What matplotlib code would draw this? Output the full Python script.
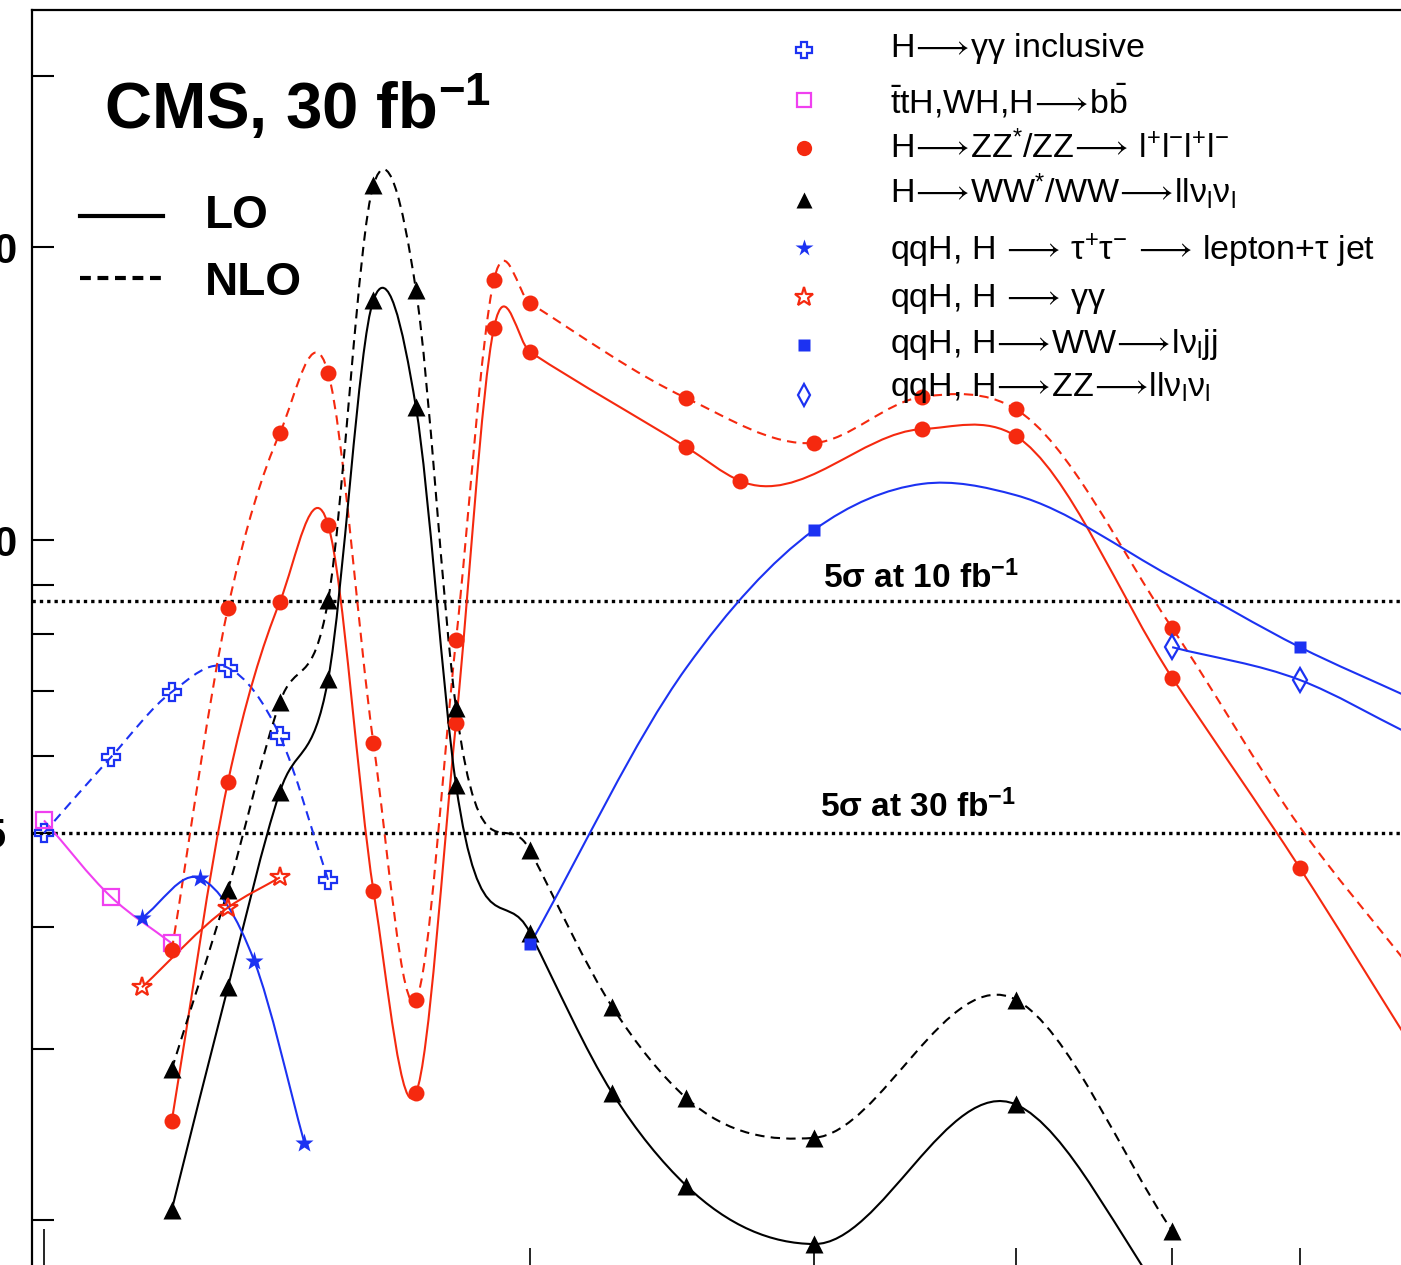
import numpy as np
import matplotlib
matplotlib.use("Agg")
import matplotlib.pyplot as plt
import matplotlib.transforms as mtransforms
from matplotlib.path import Path
from matplotlib.patches import PathPatch
from matplotlib.ticker import NullFormatter

plt.rcParams['font.family'] = ['Liberation Sans', 'DejaVu Sans']
plt.rcParams['mathtext.default'] = 'regular'

# ------------------------------------------------------------
# values (Higgs mass in GeV, significance)
# ------------------------------------------------------------
gg_mass = [100, 110, 120, 130, 140, 150]
gg_sig = [5.00, 5.98, 6.98, 7.39, 6.29, 4.47]

bb_mass = [100, 110, 120]
bb_sig = [5.15, 4.30, 3.85]

zz_lo_mass = [120, 130, 140, 150, 160, 170, 180, 190, 200, 250, 270, 350, 400, 500, 600, 700]
zz_lo_sig = [2.53, 5.64, 8.64, 10.36, 4.36, 2.70, 6.49, 16.52, 15.61, 12.46, 11.50,
             13.00, 12.79, 7.22, 4.60, 3.06]
zz_lo_marked = 15

zz_nlo_mass = [120, 130, 140, 150, 160, 170, 180, 190, 200, 250, 300, 350, 400, 500, 600, 700]
zz_nlo_sig = [3.79, 8.51, 12.88, 14.85, 6.18, 3.37, 7.89, 18.50, 17.52, 13.99, 12.58,
              14.03, 13.63, 8.12, 5.07, 3.66]
zz_nlo_marked = 14

ww_lo_mass = [120, 130, 140, 150, 160, 170, 180, 200, 225, 250, 300, 400, 500]
ww_lo_sig = [2.05, 3.47, 5.51, 7.20, 17.65, 13.69, 5.60, 3.95, 2.70, 2.17, 1.89, 2.63, 1.62]

ww_nlo_mass = [120, 130, 140, 150, 160, 170, 180, 200, 225, 250, 300, 400, 500]
ww_nlo_sig = [2.86, 4.37, 6.81, 8.68, 23.17, 18.07, 6.72, 4.80, 3.31, 2.67, 2.43, 3.37, 1.95]

tautau_mass = [115, 125, 135, 145]
tautau_sig = [4.09, 4.49, 3.69, 2.40]

qqgg_mass = [115, 130, 140]
qqgg_sig = [3.47, 4.19, 4.50]

lvjj_mass = [200, 250, 300, 350, 400, 500, 600, 700]
lvjj_sig = [3.84, 7.39, 10.24, 11.42, 11.12, 9.16, 7.76, 6.90]
lvjj_marked = [200, 300, 600]

llvv_mass = [500, 600, 700]
llvv_sig = [7.76, 7.18, 6.33]
llvv_marked = [500, 600]

AR = r'$\!\longrightarrow\!$'
legend_labels = [
    'H' + AR + 'γγ inclusive',
    r'$\bar{t}$tH,WH,H' + AR + r'b$\bar{b}$',
    'H' + AR + 'ZZ$^{*}$/ZZ' + AR + ' l$^{+}$l$^{-}$l$^{+}$l$^{-}$',
    'H' + AR + 'WW$^{*}$/WW' + AR + 'llν$_{l}$ν$_{l}$',
    'qqH, H ' + AR + ' τ$^{+}$τ$^{-}$ ' + AR + ' lepton+τ jet',
    'qqH, H ' + AR + ' γγ',
    'qqH, H' + AR + 'WW' + AR + 'lν$_{l}$jj',
    'qqH, H' + AR + 'ZZ' + AR + 'llν$_{l}$ν$_{l}$',
]

BLUE = '#1c32f2'
RED = '#f5290f'
MAG = '#f040f0'
BLK = 'black'


def smooth_path(mass, sig):
    # cubic Hermite curve in log-log space, given to matplotlib as Bezier segments
    x = np.log10(np.asarray(mass, float))
    y = np.log10(np.asarray(sig, float))
    h = np.diff(x)
    s = np.diff(y) / h
    m = np.empty_like(y)
    m[0], m[-1] = s[0], s[-1]
    m[1:-1] = (s[1:] * h[:-1] + s[:-1] * h[1:]) / (h[:-1] + h[1:])
    verts = [(x[0], y[0])]
    codes = [Path.MOVETO]
    for i in range(len(x) - 1):
        d = h[i] / 3.0
        verts += [(x[i] + d, y[i] + m[i] * d),
                  (x[i + 1] - d, y[i + 1] - m[i + 1] * d),
                  (x[i + 1], y[i + 1])]
        codes += [Path.CURVE4] * 3
    return Path(10 ** np.array(verts), codes)


def draw(ax, mass, sig, color, ls, marker, marked=None, **mkw):
    ax.add_patch(PathPatch(smooth_path(mass, sig), fill=False, edgecolor=color,
                           lw=1.5, linestyle=ls, zorder=2))
    m = np.array(mass, float)
    s = np.array(sig, float)
    if marked is None:
        keep = np.ones(len(m), bool)
    elif isinstance(marked, int):
        keep = np.arange(len(m)) < marked
    else:
        keep = np.isin(m, marked)
    ax.plot(m[keep], s[keep], ls='none', marker=marker, color=color, zorder=3, **mkw)


fig = plt.figure(figsize=(14.01, 12.65), dpi=100)
# the frame runs past the right and bottom edge of the picture
ax = fig.add_axes([32 / 1401, -10 / 1265, 1388 / 1401, 1.0])
ax.set_xscale('log')
ax.set_yscale('log')
ax.set_xlim(98.3, 712.1)
ax.set_ylim(1.7565, 35.05)

DASH = (0, (4.5, 3))

# 5 sigma reference lines
for lvl in [5 * np.sqrt(3), 5.0]:
    ax.axhline(lvl, color='black', lw=2.4, linestyle=(0, (1, 1.2)), zorder=1)

open_kw = dict(mfc='none', mew=1.6)
draw(ax, gg_mass, gg_sig, BLUE, DASH, 'P', ms=13, **open_kw)
draw(ax, bb_mass, bb_sig, MAG, '-', 's', ms=11, **open_kw)
draw(ax, zz_lo_mass, zz_lo_sig, RED, '-', 'o', zz_lo_marked, ms=11.5, mec='none')
draw(ax, zz_nlo_mass, zz_nlo_sig, RED, DASH, 'o', zz_nlo_marked, ms=11.5, mec='none')
draw(ax, ww_lo_mass, ww_lo_sig, BLK, '-', '^', ms=12.5, mec='none')
draw(ax, ww_nlo_mass, ww_nlo_sig, BLK, DASH, '^', ms=12.5, mec='none')
draw(ax, tautau_mass, tautau_sig, BLUE, '-', '*', ms=14, mec='none')
draw(ax, qqgg_mass, qqgg_sig, RED, '-', '*', ms=15, **open_kw)
draw(ax, lvjj_mass, lvjj_sig, BLUE, '-', 's', lvjj_marked, ms=9, mec='none')
draw(ax, llvv_mass, llvv_sig, BLUE, '-', 'd', llvv_marked, ms=12, **open_kw)

# axes styling
for side in ['left', 'top']:
    ax.spines[side].set_linewidth(1.6)
ax.spines['right'].set_visible(False)
ax.spines['bottom'].set_visible(False)

ax.set_yticks([5, 10, 20], ['5', '10', '20'])
ax.set_yticks([2, 3, 4, 6, 7, 8, 9, 30], minor=True)
ax.yaxis.set_minor_formatter(NullFormatter())
ax.set_xticks([100], [''])
ax.set_xticks([200, 300, 400, 500, 600, 700], minor=True)
ax.xaxis.set_minor_formatter(NullFormatter())
ax.tick_params(axis='y', which='both', direction='in', length=16, width=1.5,
               pad=10, labelsize=30, right=False)
ax.tick_params(axis='x', which='major', direction='in', length=33, width=1.2,
               labelbottom=False, top=False)
ax.tick_params(axis='x', which='minor', direction='in', length=19.5, width=1.2, top=False)
for lab in ax.get_yticklabels():
    lab.set_fontweight('bold')
five = ax.get_yticklabels()[0]
five.set_transform(five.get_transform()
                   + mtransforms.ScaledTranslation(-0.12, 0, fig.dpi_scale_trans))


def axy(px, py):
    return (px - 32) / 1388, (1275 - py) / 1265


tr = ax.transAxes
ax.text(*axy(104, 130), 'CMS, 30 fb$^{-1}$', transform=tr, fontsize=47,
        fontweight='bold', ha='left', va='baseline')

x0, y0 = axy(80, 216)
x1, _ = axy(163, 216)
ax.plot([x0, x1], [y0, y0], transform=tr, color='black', lw=3, clip_on=False)
x0, y0 = axy(80, 278)
ax.plot([x0, x1], [y0, y0], transform=tr, color='black', lw=3,
        linestyle=(0, (2.6, 1.6)), clip_on=False)
ax.text(*axy(205, 228), 'LO', transform=tr, fontsize=33, fontweight='bold', va='baseline')
ax.text(*axy(205, 295), 'NLO', transform=tr, fontsize=33, fontweight='bold', va='baseline')

ax.text(*axy(823, 588), '5σ at 10 fb$^{-1}$', transform=tr, fontsize=24,
        fontweight='bold', va='baseline')
ax.text(*axy(820, 817), '5σ at 30 fb$^{-1}$', transform=tr, fontsize=24,
        fontweight='bold', va='baseline')

# legend block (drawn by hand to keep the even row spacing)
leg_marker_y = [50, 100, 148, 200, 248, 297, 345, 395]
leg_text_y = [57, 114, 158, 203, 260, 307, 353, 396]
leg_style = [
    dict(marker='P', color=BLUE, ms=11, **open_kw),
    dict(marker='s', color=MAG, ms=10, **open_kw),
    dict(marker='o', color=RED, ms=11, mec='none'),
    dict(marker='^', color=BLK, ms=12, mec='none'),
    dict(marker='*', color=BLUE, ms=13, mec='none'),
    dict(marker='*', color=RED, ms=14, **open_kw),
    dict(marker='s', color=BLUE, ms=8.5, mec='none'),
    dict(marker='d', color=BLUE, ms=11, **open_kw),
]
for label, my, ty, st in zip(legend_labels, leg_marker_y, leg_text_y, leg_style):
    mx, myy = axy(804, my)
    ax.plot([mx], [myy], transform=tr, ls='none', clip_on=False, zorder=4, **st)
    ax.text(*axy(890, ty), label, transform=tr, fontsize=24.5, va='baseline', zorder=4)

fig.savefig('out.png', dpi=100)
